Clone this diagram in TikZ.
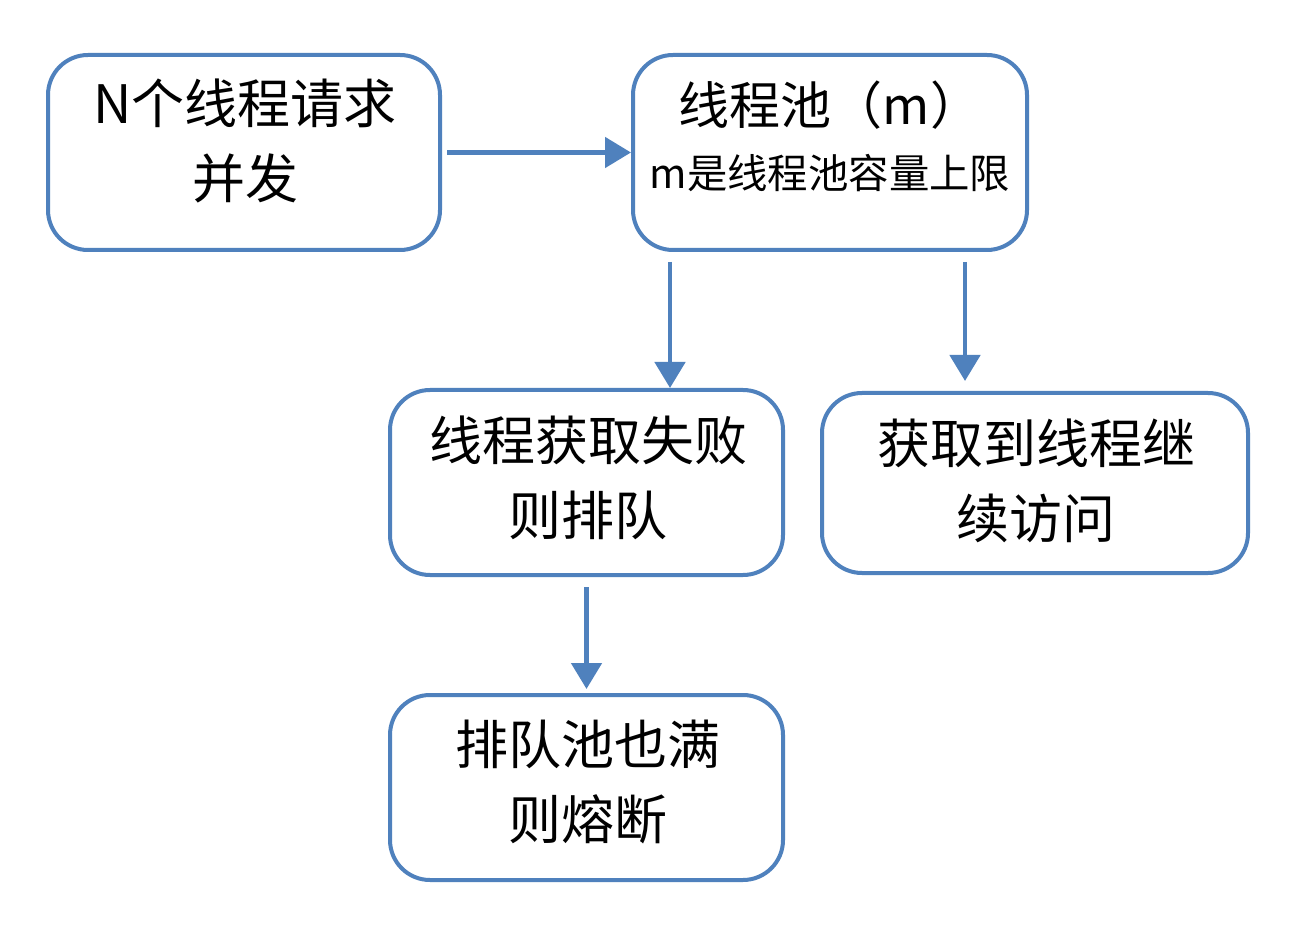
\documentclass[tikz,border=0pt]{standalone}
\usepackage{fontspec}
\setmainfont{Noto Sans CJK SC}
\usetikzlibrary{arrows.meta}
\definecolor{boxblue}{RGB}{79,129,189}
\begin{document}
\begin{tikzpicture}[x=0.5pt,y=-0.5pt,
  box/.style={draw=boxblue, line width=2pt, rounded corners=20pt, fill=white, inner sep=0pt},
  txt/.style={align=center, font=\fontsize{26.5}{37.5}\selectfont, text=black, inner sep=0pt},
  small/.style={font=\fontsize{20.2}{24}\selectfont, text=black, inner sep=0pt},
  arr/.style={draw=boxblue, line width=2.4pt, -{Triangle[width=15pt,length=13pt]}}]
\useasboundingbox[fill=white] (0,0) rectangle (1294,940);
% boxes
\node[box, minimum width=196pt, minimum height=97.5pt] (b1) at (244,152.5) {};
\node[box, minimum width=197pt, minimum height=97.5pt] (b2) at (830,152.5) {};
\node[box, minimum width=196.5pt, minimum height=92.5pt] (b3) at (586.5,482.5) {};
\node[box, minimum width=213pt, minimum height=90pt] (b4) at (1035,483) {};
\node[box, minimum width=196.5pt, minimum height=92.5pt] (b5) at (586.5,787.5) {};
% texts
\node[txt] (t1) at (245,141) {N个线程请求\\并发};
\node[txt, font=\fontsize{25.5}{30}\selectfont] (t2a) at (830,105) {线程池（m）};
\node[small] (t2b) at (830,173) {m是线程池容量上限};
\node[txt] (t3) at (588,478) {线程获取失败\\则排队};
\node[txt] (t4) at (1036,481) {获取到线程继\\续访问};
\node[txt] (t5) at (588,782) {排队池也满\\则熔断};
% connectors
\coordinate (a2s) at (670,262);
\coordinate (a3s) at (965,262);
\draw[arr] ([xshift=2.5pt]b1.east) -- (b2.west);
\draw[arr] (a2s) -- (a2s |- b3.north);
\draw[arr, shorten >=5pt] (a3s) -- (a3s |- b4.north);
\draw[arr, shorten <=5pt, shorten >=2pt] (b3.south) -- (b5.north);
\end{tikzpicture}
\end{document}
